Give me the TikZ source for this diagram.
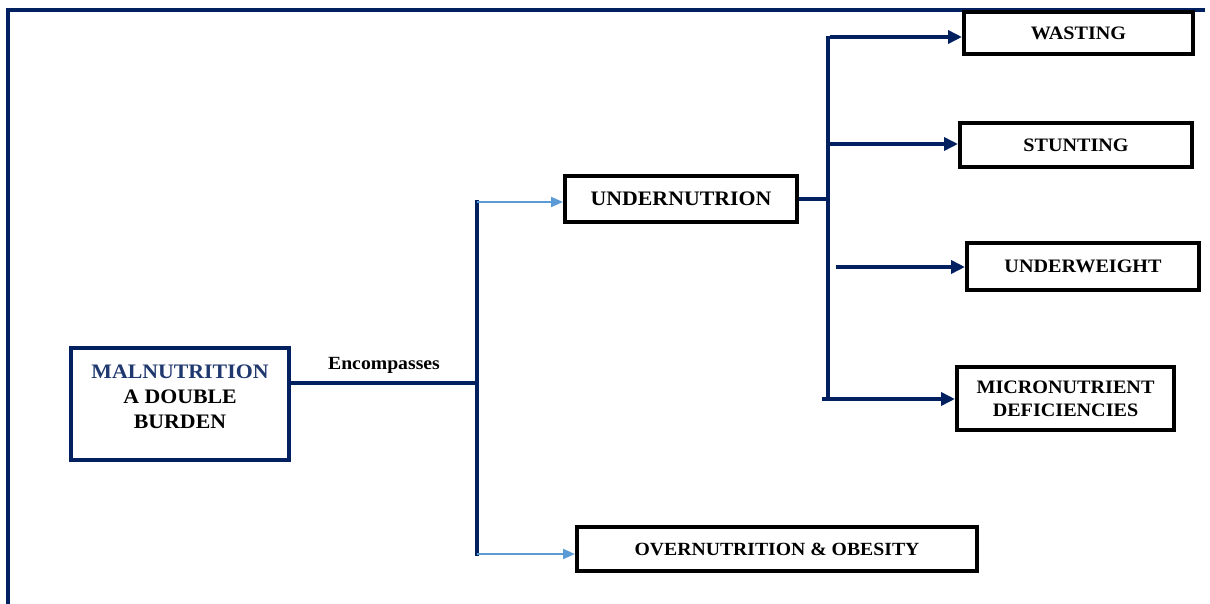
\documentclass[tikz,border=0pt]{standalone}
\usepackage{fontspec}
\setmainfont{Liberation Serif}[FakeStretch=1.06]
\usetikzlibrary{arrows.meta}
\definecolor{navy}{RGB}{0,32,96}
\definecolor{maltext}{RGB}{31,56,110}
\definecolor{lblue}{RGB}{91,155,213}
\begin{document}
\begin{tikzpicture}[x=1pt,y=-1pt,
  box/.style={draw=black,line width=4pt,fill=white,inner sep=0pt,
    font=\fontsize{19}{23}\selectfont\bfseries,align=center},
  conn/.style={draw=navy,line width=3.8pt},
  arr/.style={draw=navy,line width=3.8pt,-{Triangle[length=14pt,width=13pt]}},
  larr/.style={draw=lblue,line width=2pt,-{Triangle[length=12pt,width=10pt]}}]
\useasboundingbox (0,0) rectangle (1210,604);
% frame
\draw[navy,line width=3.5pt] (8,604) -- (8,10) -- (1205,10);
% malnutrition
\node[box,draw=navy,minimum width=218pt,minimum height=112pt] (mal) at (180,404) {};
\node[font=\fontsize{20.6}{25}\selectfont\bfseries,align=center,inner sep=0pt] (maltxt) at (180,397)
  {\textcolor{maltext}{MALNUTRITION}\\A DOUBLE\\BURDEN};
% level 1
\node[box,minimum width=232pt,minimum height=46pt,font=\fontsize{20.6}{24}\selectfont\bfseries] (under) at (681,199) {UNDERNUTRION};
\node[box,minimum width=400pt,minimum height=44pt,font=\fontsize{18.6}{22}\selectfont\bfseries] (over) at (777,549) {OVERNUTRITION \& OBESITY};
% level 2
\node[box,minimum width=229pt,minimum height=42pt] (wasting) at (1078.5,33) {WASTING};
\node[box,minimum width=232pt,minimum height=44pt] (stunting) at (1076,145) {STUNTING};
\node[box,minimum width=232pt,minimum height=47pt] (underweight) at (1083,266.5) {UNDERWEIGHT};
\node[box,minimum width=217pt,minimum height=63pt,font=\fontsize{19}{23}\selectfont\bfseries] (micro) at (1065.5,398.5) {MICRONUTRIENT\\DEFICIENCIES};
% junctions
\coordinate (j1) at (477,383);
\coordinate (t1) at (477,200);
\coordinate (t2) at (477,556);
\coordinate (r0) at (828,200);
\coordinate (r1) at (828,36);
\coordinate (r2) at (828,401);
\coordinate (aw) at (830,37);
\coordinate (as) at (828,144);
\coordinate (au) at (836,267);
\coordinate (am) at (822,399);
% connectors
\draw[conn] (mal.east |- j1) -- node[above=8pt,font=\fontsize{18.6}{22}\selectfont\bfseries,inner sep=0pt] (enc) {Encompasses} (j1);
\draw[conn] (t1) -- (t2);
\draw[larr] (477,202) -- (under.west |- 0,202);
\draw[larr] (477,554) -- (over.west |- 0,554);
\draw[conn] (under.east) -- (under.east -| r0);
\draw[conn] (r1) -- (r2);
\draw[arr] (aw) -- (aw -| wasting.west);
\draw[arr] (as) -- (as -| stunting.west);
\draw[arr] (au) -- (au -| underweight.west);
\draw[arr] (am) -- (am -| micro.west);
\end{tikzpicture}
\end{document}
